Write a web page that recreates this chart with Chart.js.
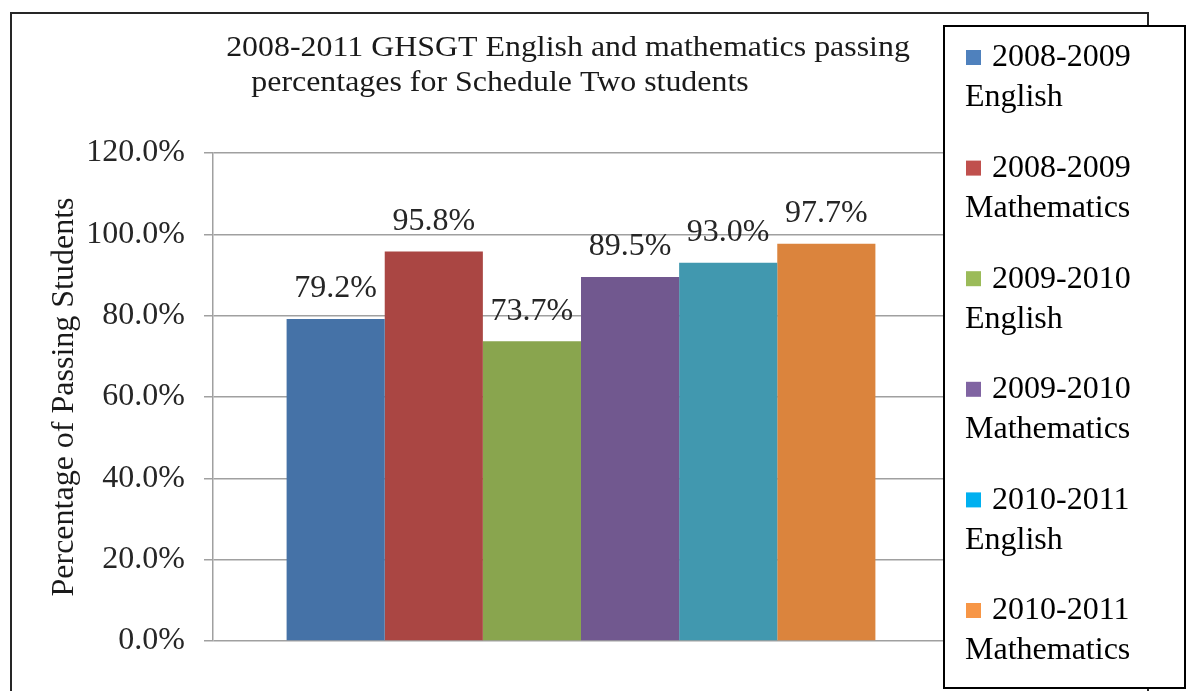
<!DOCTYPE html>
<html>
<head>
<meta charset="utf-8">
<script src="https://cdn.jsdelivr.net/npm/chart.js@4"></script>
<style>
  html, body { margin: 0; padding: 0; background: #fff; }
  #wrap { width: 1189px; height: 691px; }
</style>
</head>
<body>
<div id="wrap"><canvas id="c" width="1189" height="691"></canvas></div>
<script>
// ---- data ----
const categories = [''];
const seriesNames = [
  ['2008-2009', 'English'],
  ['2008-2009', 'Mathematics'],
  ['2009-2010', 'English'],
  ['2009-2010', 'Mathematics'],
  ['2010-2011', 'English'],
  ['2010-2011', 'Mathematics']
];
const seriesValues = [79.2, 95.8, 73.7, 89.5, 93.0, 97.7];
const barColors = ['#4572A7', '#AA4643', '#89A54E', '#71588F', '#4198AF', '#DB843D'];
const legendColors = ['#4F81BD', '#C0504D', '#9BBB59', '#8064A2', '#00B0F0', '#F79646'];
const yMin = 0, yMax = 120, yStep = 20;
const titleLines = ['2008-2011 GHSGT English and mathematics passing', 'percentages for Schedule Two students'];
const yAxisTitle = 'Percentage of Passing Students';

const FONT = '"Liberation Serif", "Times New Roman", serif';

const framePlugin = {
  id: 'frame',
  beforeDraw(chart) {
    const ctx = chart.ctx;
    ctx.save();
    ctx.fillStyle = '#fff';
    ctx.fillRect(0, 0, chart.width, chart.height);
    ctx.strokeStyle = '#262626';
    ctx.lineWidth = 2;
    ctx.strokeRect(11, 13, 1137, 700);
    // title (text slightly widened as in the original rendering)
    ctx.fillStyle = '#1a1a1a';
    ctx.font = '29px ' + FONT;
    ctx.textAlign = 'center';
    ctx.textBaseline = 'middle';
    const sx = 1.1;
    ctx.save(); ctx.translate(568, 48); ctx.scale(sx, 1); ctx.fillText(titleLines[0], 0, 0); ctx.restore();
    ctx.save(); ctx.translate(500, 83); ctx.scale(sx, 1); ctx.fillText(titleLines[1], 0, 0); ctx.restore();
    ctx.restore();
  }
};

const labelPlugin = {
  id: 'valueLabels',
  afterDatasetsDraw(chart) {
    const ctx = chart.ctx;
    ctx.save();
    ctx.font = '32px ' + FONT;
    ctx.fillStyle = '#262626';
    ctx.textAlign = 'center';
    ctx.textBaseline = 'middle';
    chart.data.datasets.forEach((ds, i) => {
      const meta = chart.getDatasetMeta(i);
      meta.data.forEach((el, j) => {
        ctx.fillText(ds.data[j].toFixed(1) + '%', el.x, el.y - 30);
      });
    });
    ctx.restore();
  }
};

const legendPlugin = {
  id: 'sideLegend',
  afterDraw(chart) {
    const ctx = chart.ctx;
    ctx.save();
    const L = 944, T = 26, R = 1185, B = 688;
    ctx.fillStyle = '#fff';
    ctx.fillRect(L, T, R - L, B - T);
    ctx.strokeStyle = '#000';
    ctx.lineWidth = 2;
    ctx.strokeRect(L, T, R - L, B - T);
    ctx.font = '32px ' + FONT;
    ctx.textAlign = 'left';
    ctx.textBaseline = 'middle';
    seriesNames.forEach((lines, i) => {
      const y = 58 + i * 110.6;
      ctx.fillStyle = legendColors[i];
      ctx.fillRect(966, y - 8, 15, 15);
      ctx.fillStyle = '#000';
      ctx.fillText(lines[0], 992, y);
      ctx.fillText(lines[1], 965, y + 40);
    });
    ctx.restore();
  }
};

new Chart(document.getElementById('c'), {
  type: 'bar',
  data: {
    labels: categories,
    datasets: seriesNames.map((n, i) => ({
      label: n.join(' '),
      data: [seriesValues[i]],
      backgroundColor: barColors[i],
      borderWidth: 0
    }))
  },
  options: {
    responsive: false,
    animation: false,
    events: [],
    layout: { padding: { left: 10, right: 240, top: 153, bottom: 50 } },
    datasets: { bar: { categoryPercentage: 0.8, barPercentage: 1.0 } },
    plugins: { legend: { display: false }, title: { display: false }, tooltip: { enabled: false } },
    scales: {
      x: { display: false },
      y: {
        min: yMin, max: yMax,
        afterFit(scale) { scale.width = 203; },
        ticks: {
          stepSize: yStep,
          padding: 19,
          color: '#262626',
          font: { family: FONT, size: 32 },
          callback: v => v.toFixed(1) + '%'
        },
        grid: { color: '#A0A0A0', lineWidth: 1.5, tickLength: 9, drawTicks: true },
        border: { color: '#A0A0A0', width: 1.5 },
        title: {
          display: true,
          text: yAxisTitle,
          color: '#1a1a1a',
          font: { family: FONT, size: 32 },
          padding: { top: 35, bottom: 0 }
        }
      }
    }
  },
  plugins: [framePlugin, labelPlugin, legendPlugin]
});
</script>
</body>
</html>
